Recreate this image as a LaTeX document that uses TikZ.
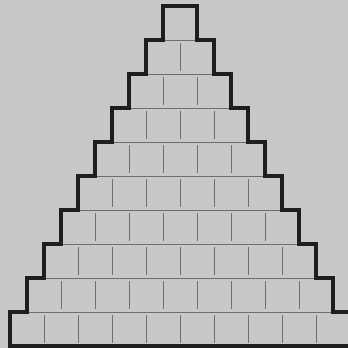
\documentclass[tikz,border=0pt]{standalone}
\usepackage{tikz}
\definecolor{paper}{HTML}{C8C8C8}
\definecolor{pencil}{HTML}{6E6E6E}
\definecolor{ink}{HTML}{1E1E1E}

\begin{document}
\begin{tikzpicture}[x=0.05cm,y=-0.05cm]
  \fill[paper] (0,0) rectangle (348,348);
  \useasboundingbox (0,0) rectangle (348,348);
  \clip (0,0) rectangle (348,348);
  % joints between the rows
  \foreach \k in {1,...,9} {
    \draw[pencil,line width=1.1pt] (180-17*\k,6+34*\k) -- (180+17*\k,6+34*\k);
  }
  % joints inside each row
  \foreach \k in {2,...,10} {
    \pgfmathtruncatemacro\m{\k-1}
    \foreach \j in {1,...,\m} {
      \draw[pencil,line width=1.1pt] (180-17*\k+34*\j,9+34*\k-34) -- (180-17*\k+34*\j,3+34*\k);
    }
  }
  % outline of the stairs
  \draw[ink,line width=5pt,line join=miter] (180,346)
    \foreach \k in {10,...,1} { -- (180-17*\k,6+34*\k) -- (180-17*\k,6+34*\k-34) }
    \foreach \k in {1,...,10} { -- (180+17*\k,6+34*\k-34) -- (180+17*\k,6+34*\k) }
    -- cycle;
\end{tikzpicture}
\end{document}
